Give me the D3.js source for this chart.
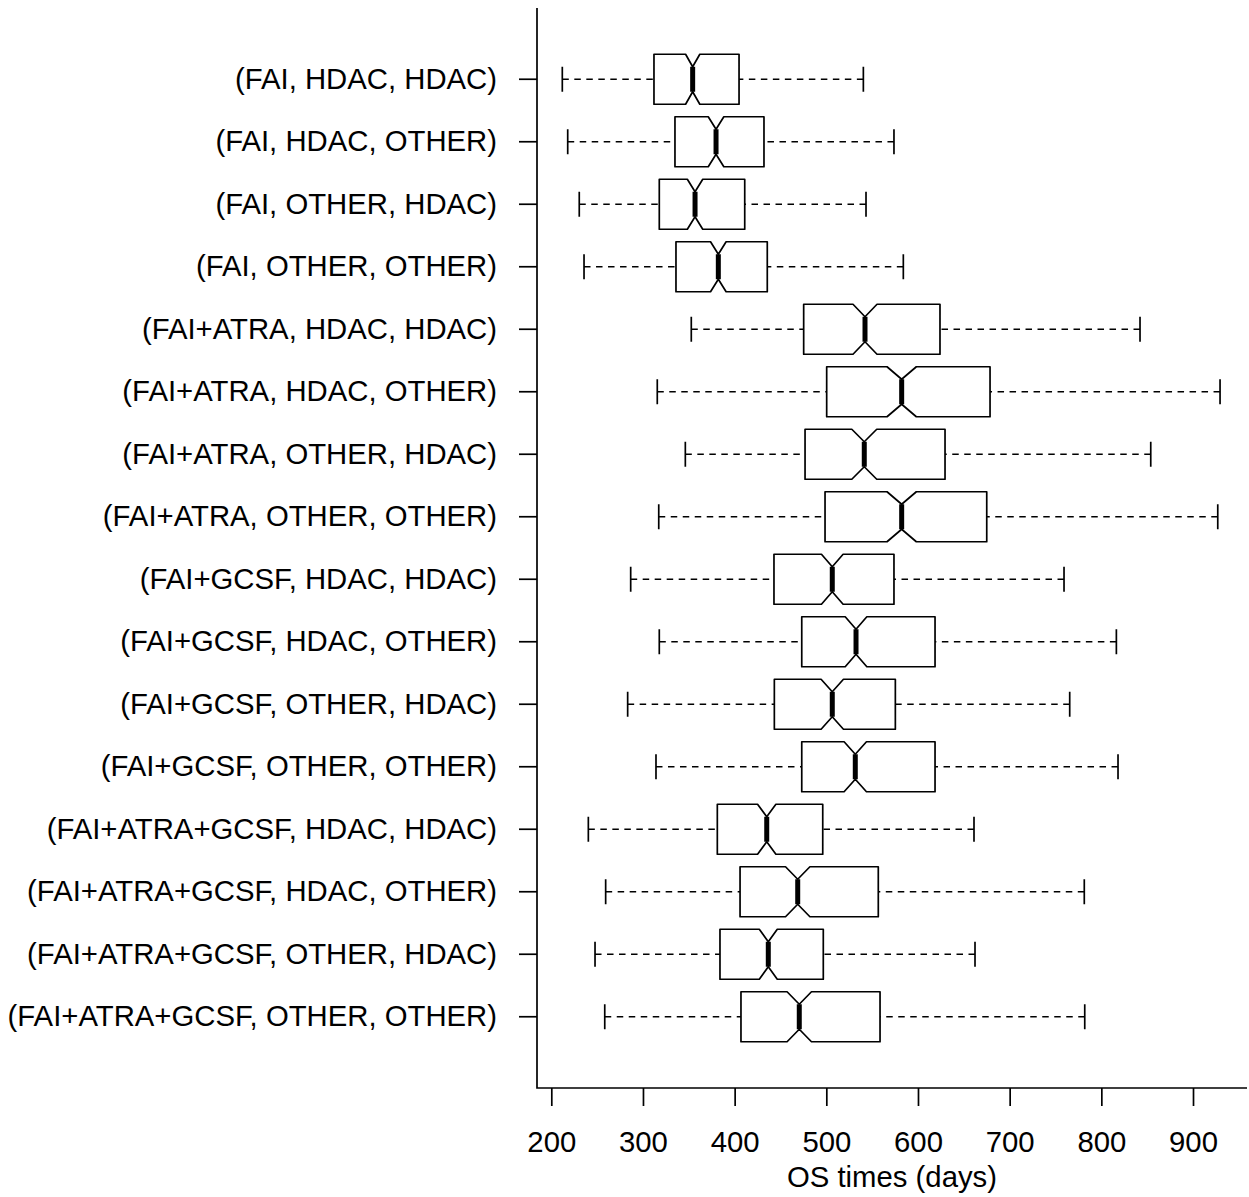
<!DOCTYPE html>
<html><head><meta charset="utf-8">
<script src="https://cdn.jsdelivr.net/npm/d3@7"></script>
<style>body{margin:0;background:#fff}</style>
</head><body><div id="chart"></div>
<script>
const categories = [
  "(FAI, HDAC, HDAC)", "(FAI, HDAC, OTHER)", "(FAI, OTHER, HDAC)", "(FAI, OTHER, OTHER)",
  "(FAI+ATRA, HDAC, HDAC)", "(FAI+ATRA, HDAC, OTHER)", "(FAI+ATRA, OTHER, HDAC)", "(FAI+ATRA, OTHER, OTHER)",
  "(FAI+GCSF, HDAC, HDAC)", "(FAI+GCSF, HDAC, OTHER)", "(FAI+GCSF, OTHER, HDAC)", "(FAI+GCSF, OTHER, OTHER)",
  "(FAI+ATRA+GCSF, HDAC, HDAC)", "(FAI+ATRA+GCSF, HDAC, OTHER)", "(FAI+ATRA+GCSF, OTHER, HDAC)", "(FAI+ATRA+GCSF, OTHER, OTHER)"
];
const whiskerLow  = [212.0, 217.9, 230.5, 235.7, 352.7, 315.6, 346.2, 317.2, 286.6, 317.8, 283.3, 314.2, 240.4, 259.3, 247.7, 258.3];
const q1          = [312.0, 334.9, 317.8, 336.0, 475.3, 500.4, 476.8, 498.6, 442.9, 473.2, 443.3, 473.2, 381.1, 405.9, 384.0, 406.9];
const median      = [354.2, 379.7, 356.8, 382.2, 542.2, 582.2, 541.4, 582.2, 506.5, 532.4, 506.5, 531.6, 435.0, 468.8, 436.7, 470.5];
const q3          = [404.8, 432.0, 411.0, 435.6, 624.0, 678.6, 629.5, 675.0, 573.8, 618.6, 575.3, 618.6, 496.1, 556.7, 496.7, 558.6];
const whiskerHigh = [540.4, 573.8, 543.3, 584.0, 842.2, 929.5, 853.9, 927.0, 759.3, 816.4, 765.5, 818.2, 661.1, 781.4, 662.2, 781.9];
const notchLow    = [346.5, 371.2, 348.4, 373.7, 529.1, 566.2, 527.8, 566.2, 494.7, 520.6, 494.3, 519.4, 425.0, 455.5, 426.9, 457.2];
const notchHigh   = [362.0, 388.2, 365.2, 390.7, 555.3, 598.2, 555.0, 598.2, 518.3, 544.2, 518.7, 543.8, 445.0, 482.1, 446.5, 483.8];
const xTicks = [200, 300, 400, 500, 600, 700, 800, 900];
const xTitle = "OS times (days)";

const W = 1249, H = 1197;
const FONT = "'Liberation Sans', Arial, Helvetica, sans-serif";
const FS = 29.3;
const plotL = 537, plotR = 1247, plotT = 8, plotB = 1088;

const svg = d3.select("#chart").append("svg").attr("width", W).attr("height", H)
  .style("background", "#fff");

const x = d3.scaleLinear().domain([184.4, 958.9]).range([plotL, plotR]);
const yPad = 0.64 * 62.5;
const y = d3.scaleBand().domain(categories).range([plotT + yPad, plotB - yPad]).padding(0);
const bw = y.bandwidth();
const half = bw * 0.4;

const data = categories.map((c, i) => ({
  c, wl: whiskerLow[i], q1: q1[i], med: median[i], q3: q3[i], wh: whiskerHigh[i],
  nl: notchLow[i], nh: notchHigh[i]
}));

const lw = 1.7;
const g = svg.append("g");
const row = g.selectAll("g.row").data(data).join("g").attr("class", "row")
  .attr("transform", d => `translate(0,${y(d.c) + bw / 2})`);

// whiskers (drawn from whisker end toward box, as R does)
row.append("line").attr("x1", d => x(d.wl)).attr("x2", d => x(d.q1)).attr("y1", 0).attr("y2", 0)
  .attr("stroke", "#000").attr("stroke-width", lw).attr("stroke-dasharray", "6.5,5.5");
row.append("line").attr("x1", d => x(d.wh)).attr("x2", d => x(d.q3)).attr("y1", 0).attr("y2", 0)
  .attr("stroke", "#000").attr("stroke-width", lw).attr("stroke-dasharray", "6.5,5.5");
// staples
row.append("line").attr("x1", d => x(d.wl)).attr("x2", d => x(d.wl)).attr("y1", -half / 2).attr("y2", half / 2)
  .attr("stroke", "#000").attr("stroke-width", lw);
row.append("line").attr("x1", d => x(d.wh)).attr("x2", d => x(d.wh)).attr("y1", -half / 2).attr("y2", half / 2)
  .attr("stroke", "#000").attr("stroke-width", lw);
// notched box
row.append("path").attr("d", d => {
  const pts = [
    [x(d.q1), -half], [x(d.q1), half], [x(d.nl), half], [x(d.med), half / 2], [x(d.nh), half],
    [x(d.q3), half], [x(d.q3), -half], [x(d.nh), -half], [x(d.med), -half / 2], [x(d.nl), -half]
  ];
  return d3.line()(pts) + "Z";
}).attr("fill", "#fff").attr("stroke", "#000").attr("stroke-width", lw).attr("stroke-linejoin", "round");
// median
row.append("line").attr("x1", d => x(d.med)).attr("x2", d => x(d.med)).attr("y1", -half / 2).attr("y2", half / 2)
  .attr("stroke", "#000").attr("stroke-width", 5);

// axes
const ax = svg.append("g").attr("transform", `translate(0,${plotB})`)
  .call(d3.axisBottom(x).tickValues(xTicks).tickSize(18).tickPadding(25).tickFormat(d3.format("d")));
ax.select(".domain").remove();
ax.selectAll("line").attr("stroke", "#000").attr("stroke-width", lw);
ax.selectAll("text").attr("font-family", FONT).attr("font-size", FS).attr("fill", "#000");

const ay = svg.append("g").attr("transform", `translate(${plotL},0)`)
  .call(d3.axisLeft(y).tickSize(18).tickPadding(22));
ay.select(".domain").remove();
ay.selectAll("line").attr("stroke", "#000").attr("stroke-width", lw);
ay.selectAll("text").attr("font-family", FONT).attr("font-size", FS).attr("fill", "#000");

// L-shaped frame
svg.append("path").attr("d", `M${plotL},${plotT}V${plotB}H${plotR}`)
  .attr("fill", "none").attr("stroke", "#000").attr("stroke-width", lw);

svg.append("text").attr("x", (plotL + plotR) / 2).attr("y", 1187).attr("text-anchor", "middle")
  .attr("font-family", FONT).attr("font-size", FS).attr("fill", "#000").text(xTitle);
</script>
</body></html>
